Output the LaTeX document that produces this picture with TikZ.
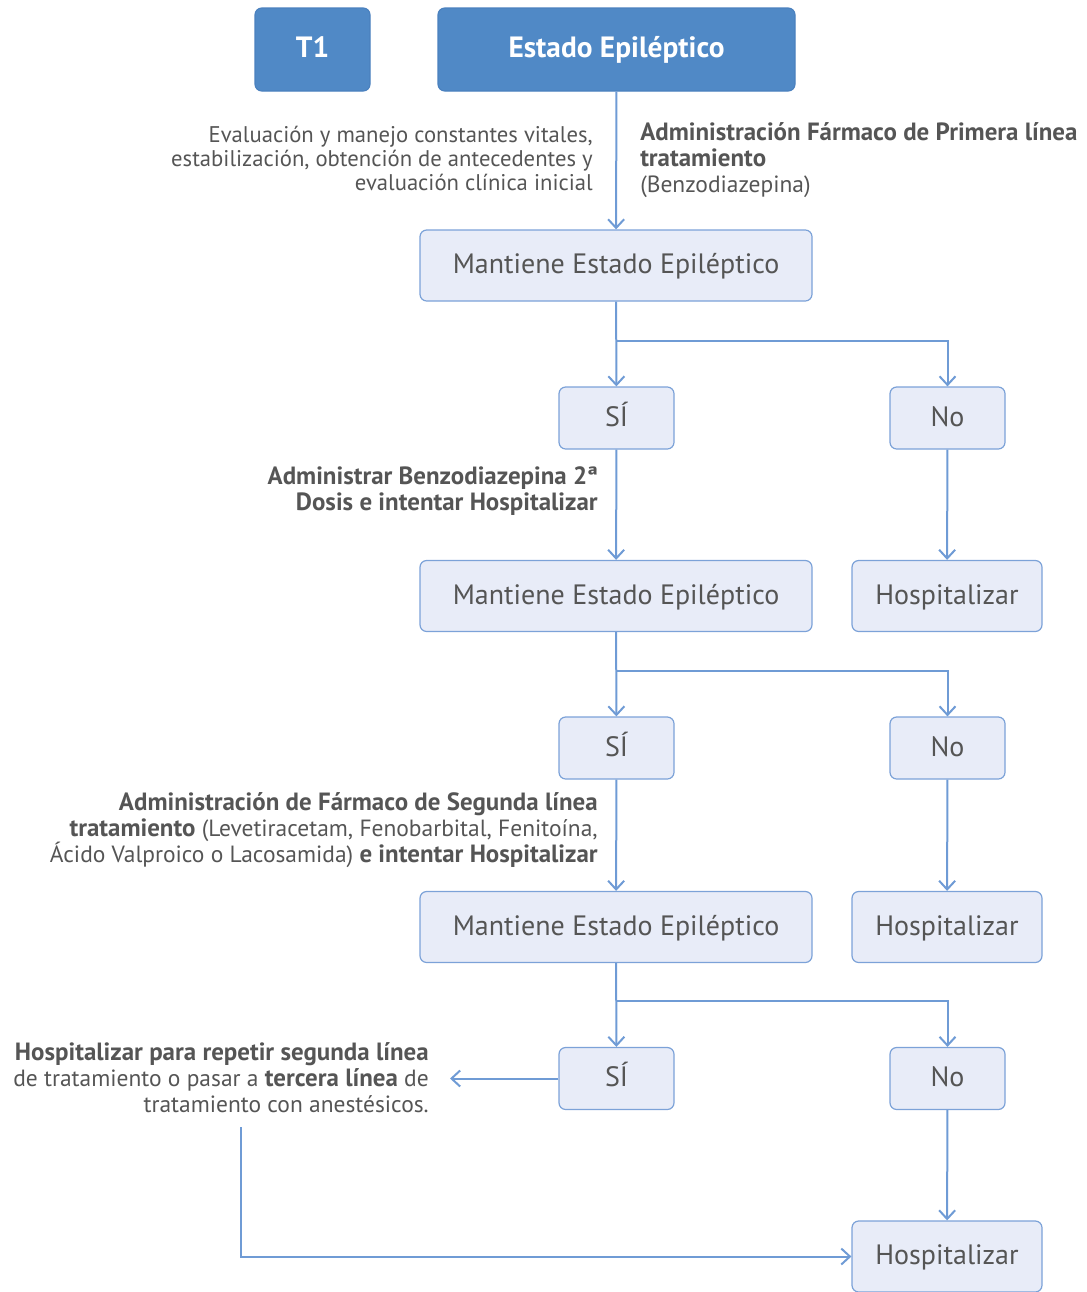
\documentclass[tikz,border=0pt]{standalone}
\usepackage{fontspec}
\setmainfont{PT Sans}
\usetikzlibrary{arrows.meta, positioning}

\definecolor{epidark}{HTML}{5089C6}
\definecolor{epidarkedge}{HTML}{4A80BE}
\definecolor{epilight}{HTML}{E8ECF8}
\definecolor{epiedge}{HTML}{7CA2D8}
\definecolor{epiline}{HTML}{6F9BD5}
\definecolor{epitext}{HTML}{555555}

% bold runs are a bit wider in the original
\newcommand{\heavy}[1]{{\fontsize{18.7}{19.5}\selectfont\bfseries #1}}

\tikzset{
  darkbox/.style = {draw = epidarkedge, fill = epidark, rounded corners = 5pt,
    line width = 0.8pt, inner sep = 0pt, text = white,
    text height = 1.18em, text depth = 0pt,
    font = \bfseries\fontsize{22}{24}\selectfont, minimum height = 62.25pt},
  lightbox/.style = {draw = epiedge, fill = epilight, rounded corners = 5pt,
    line width = 0.9pt, inner sep = 0pt, text = epitext,
    text height = 1.2em, text depth = 0pt,
    font = \fontsize{21}{24}\selectfont},
  answer/.style = {lightbox, minimum width = 86.25pt, minimum height = 46.5pt},
  keeps/.style = {lightbox, minimum width = 294pt, minimum height = 53.25pt},
  hosp/.style = {lightbox, minimum width = 142.5pt, minimum height = 53.25pt},
  note/.style = {text = epitext, align = right, inner sep = 0pt,
    font = \fontsize{17.6}{19.5}\selectfont},
  link/.style = {draw = epiline, line width = 1.5pt,
    -{Straight Barb[length = 6.5pt, width = 12pt]}},
  wire/.style = {draw = epiline, line width = 1.5pt}
}

\begin{document}
\begin{tikzpicture}[x = 0.75pt, y = -0.75pt]

\useasboundingbox (0, 0) rectangle (1086, 1292);

% header
\node[darkbox, minimum width = 86.25pt] (t1) at (312.5, 49.5) {T1};
\node[darkbox, minimum width = 267.75pt] (estado) at (616.5, 49.5) {Estado Epiléptico};

% first line treatment
\node[keeps] (m1) at (616, 265.5) {Mantiene Estado Epiléptico};
\draw[link] (estado) -- (m1);
\node[note, anchor = east, font = \fontsize{17}{18}\selectfont] (eval) at (593, 158)
  {Evaluación y manejo constantes vitales,\\
   estabilización, obtención de antecedentes y\\
   evaluación clínica inicial};
\node[note, align = left, anchor = west] (primera) at (640, 160)
  {\heavy{Administración Fármaco de Primera línea}\\
   \heavy{tratamiento}\\
   (Benzodiazepina)};

\node[answer] (s1) at (616.5, 418) {SÍ};
\node[answer] (n1) at (947.5, 418) {No};
\coordinate (j1) at (616, 341);
\draw[link] (m1) -- (s1);
\draw[link] (j1) -| (n1);

% second dose
\node[keeps] (m2) at (616, 596) {Mantiene Estado Epiléptico};
\node[hosp] (h1) at (947, 596) {Hospitalizar};
\draw[link] (s1) -- (m2);
\draw[link] (n1) -- (h1);
\node[note, anchor = east] (dosis) at (598, 491)
  {\heavy{Administrar Benzodiazepina 2ª}\\
   \heavy{Dosis e intentar Hospitalizar}};

\node[answer] (s2) at (616.5, 748) {SÍ};
\node[answer] (n2) at (947.5, 748) {No};
\coordinate (j2) at (616, 671);
\draw[link] (m2) -- (s2);
\draw[link] (j2) -| (n2);

% second line treatment
\node[keeps] (m3) at (616, 927) {Mantiene Estado Epiléptico};
\node[hosp] (h2) at (947, 927) {Hospitalizar};
\draw[link] (s2) -- (m3);
\draw[link] (n2) -- (h2);
\node[note, anchor = east] (segunda) at (598, 830)
  {\heavy{Administración de Fármaco de Segunda línea}\\
   \heavy{tratamiento} (Levetiracetam, Fenobarbital, Fenitoína,\\
   Ácido Valproico o Lacosamida) \heavy{e intentar Hospitalizar}};

\node[answer] (s3) at (616.5, 1078.5) {SÍ};
\node[answer] (n3) at (947.5, 1078.5) {No};
\coordinate (j3) at (616, 1001);
\draw[link] (m3) -- (s3);
\draw[link] (j3) -| (n3);

% third line
\node[hosp] (h3) at (947, 1256.5) {Hospitalizar};
\draw[link] (n3) -- (h3);
\node[note, anchor = east] (tercera) at (429, 1078)
  {\heavy{Hospitalizar para repetir segunda línea}\\
   de tratamiento o pasar a \heavy{tercera línea} de\\
   tratamiento con anestésicos.};
\coordinate (tip) at (450, 1078.5);
\coordinate (drop) at (241, 1127);
\draw[link] (s3) -- (tip);
\draw[link] (drop) |- (h3);

\end{tikzpicture}
\end{document}
